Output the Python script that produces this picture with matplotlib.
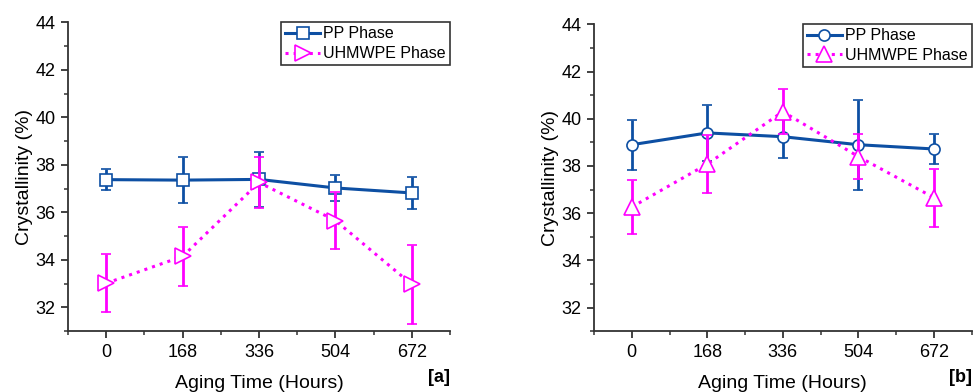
import matplotlib
matplotlib.use("Agg")
import matplotlib.pyplot as plt
from matplotlib.ticker import MultipleLocator

plt.rcParams['font.family'] = ['Liberation Sans', 'DejaVu Sans']

hours = [0, 168, 336, 504, 672]

# panel [a]
pp_a = [37.38, 37.36, 37.39, 37.03, 36.82]
pp_a_err = [0.45, 0.97, 1.16, 0.56, 0.69]
uh_a = [33.02, 34.15, 37.26, 35.66, 32.97]
uh_a_err = [1.22, 1.25, 1.08, 1.20, 1.65]

# panel [b]
pp_b = [38.90, 39.40, 39.24, 38.90, 38.72]
pp_b_err = [1.06, 1.20, 0.89, 1.90, 0.64]
uh_b = [36.26, 38.08, 40.30, 38.40, 36.66]
uh_b_err = [1.15, 1.23, 0.96, 0.96, 1.23]

blue = '#0D4FA3'
magenta = '#FF00FF'


def draw_panel(ax, pp, pp_err, uh, uh_err, pp_marker, uh_marker, tag, tag_x):
    pp_eb = ax.errorbar(hours, pp, yerr=pp_err, color=blue, lw=2.2,
                        marker=pp_marker, ms=8, mfc='white', mec=blue, mew=1.2,
                        ecolor=blue, elinewidth=2, capsize=3.5, capthick=2,
                        zorder=3)
    uh_eb = ax.errorbar(hours, uh, yerr=uh_err, color=magenta, lw=2.2, ls=':',
                        marker=uh_marker, ms=11, mfc='white', mec=magenta,
                        mew=1.2, ecolor=magenta, elinewidth=2, capsize=3.5,
                        capthick=2, zorder=4)
    ax.set_xlim(-84, 756)
    ax.set_ylim(31, 44)
    ax.set_xticks(hours)
    ax.xaxis.set_minor_locator(MultipleLocator(84))
    ax.yaxis.set_major_locator(MultipleLocator(2))
    ax.yaxis.set_minor_locator(MultipleLocator(1))
    ax.spines['top'].set_visible(False)
    ax.spines['right'].set_visible(False)
    for s in ('left', 'bottom'):
        ax.spines[s].set_linewidth(1.3)
        ax.spines[s].set_color('#333333')
    ax.tick_params(which='major', length=5, width=1.3, labelsize=13,
                   color='#333333', pad=4)
    ax.tick_params(which='minor', length=3, width=1.1, color='#333333')
    ax.set_xlabel('Aging Time (Hours)', fontsize=14, labelpad=10)
    ax.set_ylabel('Crystallinity (%)', fontsize=14, labelpad=2)
    leg = ax.legend([pp_eb[0], uh_eb[0]], ['PP Phase', 'UHMWPE Phase'],
                    loc='upper right', fontsize=11.5, frameon=True,
                    fancybox=False, edgecolor='black', borderpad=0.25,
                    handlelength=2.2, handletextpad=0.2, labelspacing=0.3,
                    borderaxespad=0.0)
    leg.get_frame().set_linewidth(1.2)
    fig.text(tag_x, 0.036, tag, ha='right', va='center',
             fontsize=13, fontweight='bold')


fig = plt.figure(figsize=(9.73, 3.92), dpi=100)
ax1 = fig.add_axes([0.0699, 0.155, 0.3926, 0.788])
ax2 = fig.add_axes([0.6105, 0.155, 0.388, 0.783])

draw_panel(ax1, pp_a, pp_a_err, uh_a, uh_a_err, 's', '>', '[a]', 0.4625)
draw_panel(ax2, pp_b, pp_b_err, uh_b, uh_b_err, 'o', '^', '[b]', 0.999)

fig.savefig('out.png', dpi=100)
